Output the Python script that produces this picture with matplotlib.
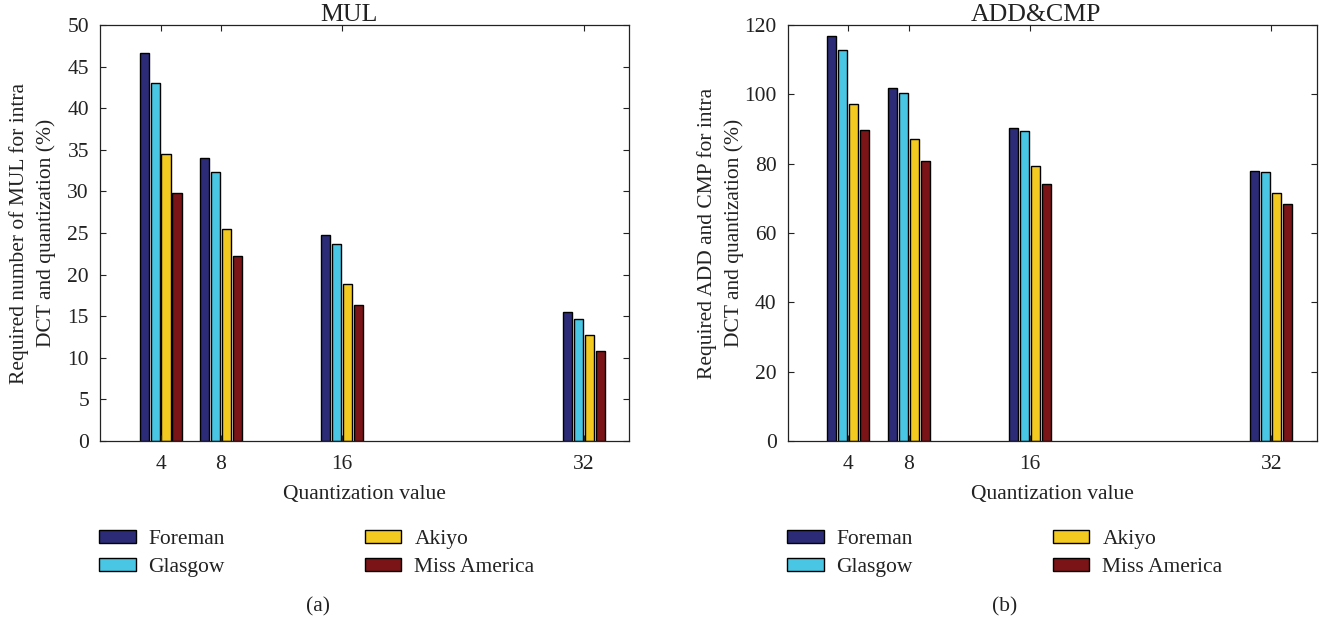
import numpy as np
import matplotlib
matplotlib.use("Agg")
import matplotlib.pyplot as plt

plt.rcParams['font.family'] = ['Liberation Serif', 'DejaVu Serif']
plt.rcParams['font.size'] = 15.5

q_values = [4, 8, 16, 32]
sequences = ['Foreman', 'Glasgow', 'Akiyo', 'Miss America']
colors = ['#2b2b77', '#48c6e4', '#f3ca20', '#7b1416']

# MUL (%)
mul = [[46.6, 34.0, 24.7, 15.5],
       [43.0, 32.3, 23.7, 14.7],
       [34.5, 25.5, 18.9, 12.7],
       [29.8, 22.2, 16.3, 10.8]]

# ADD & CMP (%)
addcmp = [[116.8, 101.7, 90.2, 77.9],
          [112.9, 100.3, 89.4, 77.5],
          [97.1, 87.0, 79.3, 71.6],
          [89.8, 80.7, 74.1, 68.4]]

fig = plt.figure(figsize=(13.36, 6.23), dpi=100)
ax1 = fig.add_axes([0.0749, 0.2921, 0.3960, 0.6678])
ax2 = fig.add_axes([0.5896, 0.2921, 0.3960, 0.6678])

step = 0.727
width = 0.6


def draw(ax, data, ymax, yticks, title, ylabel):
    x = np.array(q_values, dtype=float)
    for i in range(len(sequences)):
        ax.bar(x + (i - 1.5) * step, data[i], width, color=colors[i],
               edgecolor='black', linewidth=1.0, label=sequences[i])
    ax.set_xlim(0, 35)
    ax.set_ylim(0, ymax)
    ax.set_xticks(q_values)
    ax.set_yticks(yticks)
    ax.tick_params(direction='in', top=True, right=True, length=4,
                   colors='#222222', labelcolor='#222222', pad=8)
    ax.tick_params(axis='x', pad=10)
    for s in ax.spines.values():
        s.set_color('#222222')
        s.set_linewidth(0.9)
    ax.set_title(title, x=0.47, pad=3, color='#222222')
    ax.set_xlabel('Quantization value', labelpad=8, color='#222222')
    ax.set_ylabel(ylabel, color='#222222', linespacing=1.5)
    ax.yaxis.set_label_coords(-0.083, 0.5)


draw(ax1, mul, 50, np.arange(0, 51, 5), 'MUL',
     'Required number of MUL for intra\nDCT and quantization (%)')
draw(ax2, addcmp, 120, np.arange(0, 121, 20), 'ADD&CMP',
     'Required ADD and CMP for intra\nDCT and quantization (%)')

for ax, lx, tag, tx in [(ax1, 99 / 1336, '(a)', 318 / 1336),
                        (ax2, 787 / 1336, '(b)', 1005 / 1336)]:
    h, l = ax.get_legend_handles_labels()
    fig.legend(h, l, ncol=2,
               loc='upper left', bbox_to_anchor=(lx, 1 - 530 / 623),
               frameon=False, borderpad=0, borderaxespad=0,
               handlelength=1.7, handleheight=0.55, handletextpad=0.6,
               columnspacing=6.5, labelspacing=0.42, labelcolor='#222222')
    fig.text(tx, 1 - 607 / 623, tag, ha='center', va='center', color='#222222')

fig.savefig('out.png', dpi=100)
